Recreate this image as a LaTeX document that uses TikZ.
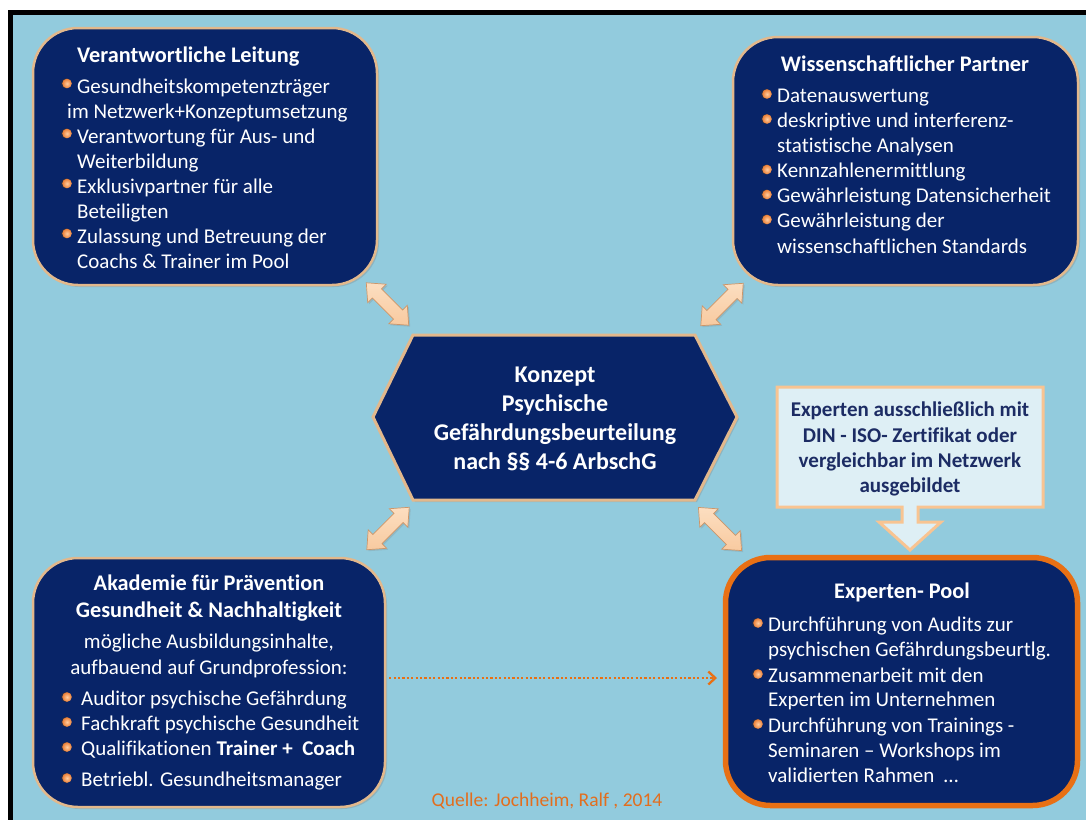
\documentclass[tikz,border=0pt]{standalone}
\usepackage{fontspec}
\setmainfont{Carlito}[Ligatures=NoCommon]
\usetikzlibrary{shadows,arrows.meta,calc}
\definecolor{navy}{RGB}{8,36,104}
\definecolor{bgblue}{RGB}{146,203,221}
\definecolor{tanline}{RGB}{226,184,140}
\definecolor{peach}{RGB}{248,202,160}
\definecolor{peachlight}{RGB}{252,222,192}
\definecolor{peachdark}{RGB}{205,150,105}
\definecolor{orng}{RGB}{232,112,20}
\definecolor{bulletin}{RGB}{255,205,160}
\definecolor{bulletout}{RGB}{236,126,52}
\definecolor{calloutfill}{RGB}{222,239,245}
\definecolor{calloutline}{RGB}{248,196,146}
\definecolor{callouttext}{RGB}{28,44,100}
\definecolor{quelle}{RGB}{226,110,30}
\tikzset{
  panel/.style={draw=tanline, line width=2.5pt, fill=navy, rounded corners=45pt, inner sep=0pt,
    drop shadow={opacity=0.3, shadow xshift=2pt, shadow yshift=-2pt}},
  poolpanel/.style={panel, draw=orng, line width=5.5pt},
  body/.style={font=\fontsize{21}{25}\selectfont, text=white, anchor=base west, inner sep=0pt},
  bodyc/.style={body, anchor=base},
  ttl/.style={font=\fontsize{22.3}{27}\selectfont\bfseries, text=white, anchor=base west, inner sep=0pt},
  ttlc/.style={ttl, anchor=base},
  hextxt/.style={font=\fontsize{24}{29}\selectfont\bfseries, text=white, anchor=base, inner sep=0pt},
  calltxt/.style={font=\fontsize{21}{25}\selectfont\bfseries, text=callouttext, anchor=base, inner sep=0pt},
  dblarrow/.style={draw=peachdark, line width=0.7pt, top color=peachlight, bottom color=peach,
    drop shadow={opacity=0.25, shadow xshift=1.5pt, shadow yshift=-1.5pt}},
}
\newcommand\bul[2]{\fill[black!80, opacity=0.45] (#1-1.3,#2) circle (5.2);
  \shade[inner color=bulletin, outer color=bulletout] (#1,#2) circle (4.8);}
% double arrow: name, centre, angle, length
\newcommand\dblarrowat[4]{%
  \begin{scope}[shift={(#2)}, rotate=#3]
    \path[dblarrow] (-#4/2,0) -- (-#4/2+15,-13) -- (-#4/2+15,-6.5) -- (#4/2-15,-6.5) -- (#4/2-15,-13)
      -- (#4/2,0) -- (#4/2-15,13) -- (#4/2-15,6.5) -- (-#4/2+15,6.5) -- (-#4/2+15,13) -- cycle;
    \coordinate (#1) at (0,0);
  \end{scope}}
\begin{document}
\begin{tikzpicture}[x=1pt,y=-1pt]
\useasboundingbox (0,0) rectangle (1086,820);
\fill[white] (0,0) rectangle (1086,820);
\fill[black] (8,10) rectangle (1086,820);
\fill[bgblue] (13,15) rectangle (1086,820);

% ---- box 1
\node[panel, minimum width=344pt, minimum height=257pt] (leitung) at (205,156.5) {};
\node[ttl] (t1) at (77,62) {Verantwortliche Leitung};
\bul{67}{83.5}\node[body] (l11) at (77,93) {Gesundheitskompetenzträger};
\node[body] (l12) at (67,118) {im Netzwerk+Konzeptumsetzung};
\bul{67}{133.5}\node[body] (l13) at (77,143) {Verantwortung für Aus- und};
\node[body] (l14) at (77,168) {Weiterbildung};
\bul{67}{183.5}\node[body] (l15) at (77,193) {Exklusivpartner für alle};
\node[body] (l16) at (77,218) {Beteiligten};
\bul{67}{233.5}\node[body] (l17) at (77,243) {Zulassung und Betreuung der};
\node[body] (l18) at (77,268) {Coachs \& Trainer im Pool};

% ---- box 2
\node[panel, minimum width=345pt, minimum height=248pt] (partner) at (905.5,161) {};
\node[ttlc] (t2) at (905,71) {Wissenschaftlicher Partner};
\bul{767}{94}\node[body] (l21) at (777,102) {Datenauswertung};
\bul{767}{119}\node[body] (l22) at (777,127) {deskriptive und interferenz-};
\node[body] (l23) at (777,152) {statistische Analysen};
\bul{767}{169.5}\node[body] (l24) at (777,177.5) {Kennzahlenermittlung};
\bul{767}{194.5}\node[body] (l25) at (777,202.5) {Gewährleistung Datensicherheit};
\bul{767}{219.5}\node[body] (l26) at (777,227.5) {Gewährleistung der};
\node[body] (l27) at (777,253) {wissenschaftlichen Standards};

% ---- hexagon
\draw[draw=tanline, line width=3pt, fill=navy, drop shadow={opacity=0.3, shadow xshift=2pt, shadow yshift=-2pt}]
  (373,417) -- (413,335) -- (695,335) -- (737,417) -- (695,500) -- (413,500) -- cycle;
\node[hextxt] (h1) at (555,382) {Konzept};
\node[hextxt] (h2) at (555,411) {Psychische};
\node[hextxt] (h3) at (555,440) {Gefährdungsbeurteilung};
\node[hextxt] (h4) at (555,469) {nach §§ 4-6 ArbschG};

% ---- double arrows
\dblarrowat{a1}{387.5,304}{-45}{60}
\dblarrowat{a2}{722,304.5}{45}{60}
\dblarrowat{a3}{388,528.5}{45}{60}
\dblarrowat{a4}{720,529}{-45}{61}

% ---- callout
\draw[draw=calloutline, line width=3pt, fill=calloutfill]
  (777,387) -- (1043,387) -- (1043,507) -- (918,507) -- (918,522) -- (941,522) -- (910,550)
  -- (879,522) -- (902,522) -- (902,507) -- (777,507) -- cycle;
\node[calltxt] (c1) at (910,416) {Experten ausschließlich mit};
\node[calltxt] (c2) at (910,442) {DIN - ISO- Zertifikat oder};
\node[calltxt] (c3) at (910,467) {vergleichbar im Netzwerk};
\node[calltxt] (c4) at (910,492) {ausgebildet};

% ---- box 3
\node[panel, minimum width=352pt, minimum height=249pt] (akademie) at (209,682.5) {};
\node[ttlc] (t3a) at (209,590) {Akademie für Prävention};
\node[ttlc] (t3b) at (209,617) {Gesundheit \& Nachhaltigkeit};
\node[bodyc] (l31) at (209,648) {mögliche Ausbildungsinhalte,};
\node[bodyc] (l32) at (209,674) {aufbauend auf Grundprofession:};
\bul{67}{697}\node[body] (l33) at (81,705) {Auditor psychische Gefährdung};
\bul{67}{722}\node[body] (l34) at (81,730) {Fachkraft psychische Gesundheit};
\bul{67}{747}\node[body] (l35) at (81,755) {Qualifikationen \textbf{Trainer +\ \ Coach}};
\bul{67}{778}\node[body] (l36) at (81,786) {Betriebl. Gesundheitsmanager};

% ---- experten pool
\node[poolpanel, minimum width=352pt, minimum height=248pt] (pool) at (901.5,681.5) {};
\node[ttlc] (t4) at (902,598) {Experten- Pool};
\bul{758}{623}\node[body] (l41) at (768,631) {Durchführung von Audits zur};
\node[body] (l42) at (768,656) {psychischen Gefährdungsbeurtlg.};
\bul{758}{674}\node[body] (l43) at (768,682) {Zusammenarbeit mit den};
\node[body] (l44) at (768,706.5) {Experten im Unternehmen};
\bul{758}{724}\node[body] (l45) at (768,732) {Durchführung von Trainings -};
\node[body] (l46) at (768,757) {Seminaren – Workshops im};
\node[body] (l47) at (768,782) {validierten Rahmen\ \ …};

% ---- dotted connector
\coordinate (dotend) at (717,678);
\draw[orng, line width=2.3pt, dash pattern=on 2.2pt off 2.2pt, -{Straight Barb[length=7pt,width=13pt]}]
  (akademie.east |- dotend) ++(3,0) -- (dotend);

% ---- source
\node[font=\fontsize{19.5}{24}\selectfont, text=quelle, anchor=base, inner sep=0pt] (q) at (547,806) {Quelle: Jochheim, Ralf , 2014};
\end{tikzpicture}
\end{document}
